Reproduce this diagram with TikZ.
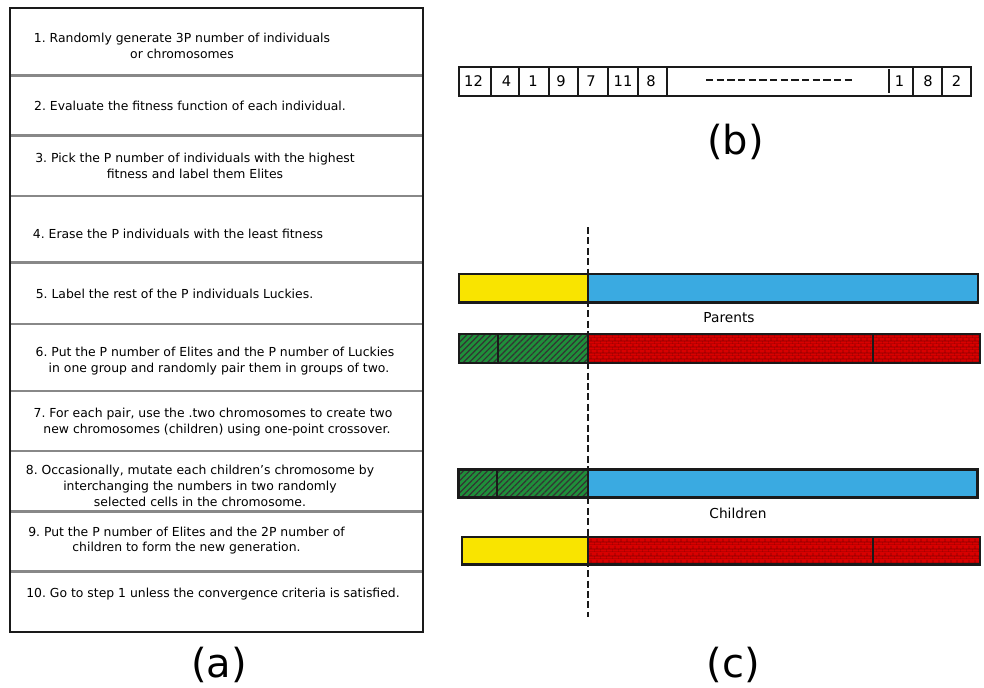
\documentclass[tikz,border=0pt]{standalone}
\usepackage{fontspec}
\setmainfont{DejaVu Sans}
\usetikzlibrary{patterns,patterns.meta}
\frenchspacing

\pgfdeclarepatternformonly{smallbricks}{\pgfpointorigin}{\pgfpoint{4.8pt}{4.8pt}}{\pgfpoint{4.8pt}{4.8pt}}{%
  \pgfsetlinewidth{0.6pt}%
  \pgfpathmoveto{\pgfpoint{0pt}{0pt}}\pgfpathlineto{\pgfpoint{4.8pt}{0pt}}%
  \pgfpathmoveto{\pgfpoint{0pt}{2.4pt}}\pgfpathlineto{\pgfpoint{4.8pt}{2.4pt}}%
  \pgfpathmoveto{\pgfpoint{0pt}{0pt}}\pgfpathlineto{\pgfpoint{0pt}{2.4pt}}%
  \pgfpathmoveto{\pgfpoint{2.4pt}{2.4pt}}\pgfpathlineto{\pgfpoint{2.4pt}{4.8pt}}%
  \pgfusepath{stroke}}

\definecolor{cyel}{HTML}{F9E400}
\definecolor{cblue}{HTML}{3AAAE1}
\definecolor{cgreen}{HTML}{1F8F3A}
\definecolor{cred}{HTML}{D80000}
\definecolor{cmortar}{HTML}{8A0000}
\definecolor{cgrid}{HTML}{888888}
\definecolor{cline}{HTML}{1A1A1A}

\tikzset{
  outerbox/.style={draw=cline, line width=1.9pt},
  divider/.style={draw=cgrid, line width=2pt},
  steptext/.style={font=\fontsize{9.3}{11.8}\selectfont, align=center, inner sep=0pt},
  celltext/.style={font=\fontsize{11}{13}\selectfont, inner sep=0pt},
  cellbox/.style={draw=cline, line width=1.4pt},
  panellabel/.style={font=\fontsize{30}{34}\selectfont, inner sep=0pt},
  barlabel/.style={font=\fontsize{10.3}{12}\selectfont, inner sep=0pt},
  barline/.style={draw=cline, line width=1.7pt},
  hatchfill/.style={fill=cgreen, postaction={pattern={Lines[angle=45,distance=3.2pt,line width=0.9pt]}, pattern color=black!80}},
  brickfill/.style={fill=cred, postaction={pattern=smallbricks, pattern color=cmortar}},
  cutline/.style={draw=cline, line width=1.7pt, dash pattern=on 5.3pt off 2.5pt},
  gapdash/.style={draw=cline, line width=1.8pt, dash pattern=on 5.6pt off 2.4pt}
}

\begin{document}
\begin{tikzpicture}[x=0.75pt,y=-0.75pt]
\useasboundingbox (0,0) rectangle (984,687);

% ---------------- (a) steps ----------------
\foreach \yy in {75.5,135.5,196,262.5,324,391,451,511.5,571.5}
  \draw[divider] (11,\yy) -- (422,\yy);
\draw[outerbox] (10,8) rectangle (423,632);

\node[steptext] (s1) at (182,46) {1. Randomly generate 3P number of individuals\\or chromosomes};
\node[steptext] (s2) at (190,106) {2. Evaluate the fitness function of each individual.};
\node[steptext] (s3) at (195,166) {3. Pick the P number of individuals with the highest\\fitness and label them Elites};
\node[steptext] (s4) at (178,234) {4. Erase the P individuals with the least fitness};
\node[steptext] (s5) at (174.5,294) {5. Label the rest of the P individuals\ Luckies.};
\node[steptext] (s6) at (215,361) {6. Put the P number of Elites and the P number of\ Luckies\\\ \ in one group and randomly pair them in groups of two.};
\node[steptext] (s7) at (213,422) {7. For each pair, use the .two chromosomes to create two\\\ \ new chromosomes (children) using one-point crossover.};
\node[steptext] (s8) at (200,486) {8. Occasionally, mutate each children{\char"27}s chromosome by\\interchanging the numbers in two randomly\\selected cells in the chromosome.};
\node[steptext] (s9) at (186.5,540.5) {9. Put the P number of Elites and the 2P number of\\children to form the new generation.};
\node[steptext] (s10) at (213,594.5) {10. Go to step 1 unless the convergence criteria is satisfied.};

\node[panellabel] (la) at (219,665) {(a)};

% ---------------- (b) chromosome ----------------
\draw[cellbox] (459,66.7) rectangle (971,95.7);
\foreach \xx in {490.7,519.3,549.3,578,607.7,637.7,667.3,913.3,942.3}
  \draw[cellbox] (\xx,66.7) -- (\xx,95.7);
\draw[cellbox] (889,69) -- (889,93);

\node[celltext] (c1) at (473.5,81.5) {12};
\node[celltext] (c2) at (506.5,81.5) {4};
\node[celltext] (c3) at (533,81.5) {1};
\node[celltext] (c4) at (561,81.5) {9};
\node[celltext] (c5) at (591,81.5) {7};
\node[celltext] (c6) at (623,81.5) {11};
\node[celltext] (c7) at (651,81.5) {8};
\coordinate (d1) at (706,80);
\coordinate (d2) at (852,80);
\draw[gapdash] (d1) -- (d2);
\node[celltext] (c8) at (899.5,81.5) {1};
\node[celltext] (c9) at (928,81.5) {8};
\node[celltext] (c10) at (956.5,81.5) {2};

\node[panellabel] (lb) at (735.5,142) {(b)};

% ---------------- (c) crossover ----------------
% Parent 1
\fill[cyel] (459,274) rectangle (588,302.5);
\fill[cblue] (588,274) rectangle (978,302.5);
\draw[barline] (459,274) rectangle (978,302.5);
\draw[barline] (588,274) -- (588,302.5);

\node[barlabel] (parents) at (729,318) {Parents};

% Parent 2
\path[hatchfill] (459,334) rectangle (588,363);
\path[brickfill] (588,334) rectangle (980,363);
\draw[barline] (459,334) rectangle (980,363);
\draw[barline] (498,334) -- (498,363);
\draw[barline] (588,334) -- (588,363);
\draw[barline] (873,334) -- (873,363);

% Child 1
\path[hatchfill] (458.5,469.5) rectangle (588,497.5);
\fill[cblue] (588,469.5) rectangle (977.5,497.5);
\draw[barline] (458.5,469.5) rectangle (977.5,497.5);
\draw[barline] (497,469.5) -- (497,497.5);
\draw[barline] (588,469.5) -- (588,497.5);

\node[barlabel] (children) at (738,513.5) {Children};

% Child 2
\fill[cyel] (462,537) rectangle (588,564.5);
\path[brickfill] (588,537) rectangle (980,564.5);
\draw[barline] (462,537) rectangle (980,564.5);
\draw[barline] (588,537) -- (588,564.5);
\draw[barline] (873,537) -- (873,564.5);

% crossover point
\coordinate (cp1) at (588,227);
\coordinate (cp2) at (588,617);
\draw[cutline] (cp1) -- (cp2);

\node[panellabel] (lc) at (733,665) {(c)};
\end{tikzpicture}
\end{document}
